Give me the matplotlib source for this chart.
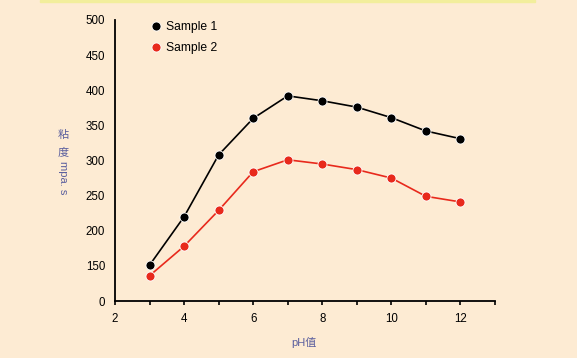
import matplotlib
matplotlib.use("Agg")
import matplotlib.pyplot as plt
from matplotlib.patches import Rectangle

plt.rcParams['font.family'] = ['Liberation Sans', 'Noto Sans CJK SC', 'DejaVu Sans']

ph = [3, 4, 5, 6, 7, 8, 9, 10, 11, 12]
sample1 = [151, 220, 308, 360, 392, 385, 376, 361, 342, 331]
sample2 = [136, 178, 229, 284, 301, 295, 287, 275, 249, 241]
yticks = [100, 150, 200, 250, 300, 350, 400, 450, 500]
ytick_labels = ['0', '150', '200', '250', '300', '350', '400', '450', '500']
xticks = [2, 4, 6, 8, 10, 12]

bg = '#fdebd3'
label_color = '#5b5f9e'

fig = plt.figure(figsize=(5.77, 3.58), dpi=100, facecolor=bg)
fig.patches.append(Rectangle((40/577, 1 - 1.5/358), 495/577, 1.5/358,
                             transform=fig.transFigure, color='#f2ee9c', zorder=0))
ax = fig.add_axes([115/577, 1 - 301/358, 380/577, 281/358])
ax.set_facecolor(bg)

ax.plot(ph, sample1, color='black', lw=1.2, marker='o', ms=6.5,
        mfc='black', mec='white', mew=0.6, label='Sample 1', zorder=3)
ax.plot(ph, sample2, color='#e8291c', lw=1.2, marker='o', ms=6.5,
        mfc='#e8291c', mec='white', mew=0.6, label='Sample 2', zorder=3)

ax.set_xlim(2, 13)
ax.set_ylim(100, 500)
ax.set_xticks(xticks)
ax.set_xticks(list(range(2, 14)), minor=True)
ax.set_yticks(yticks)
ax.set_yticklabels(ytick_labels)
ax.tick_params(axis='y', length=0, pad=7, labelsize=8.3)
ax.tick_params(axis='x', which='both', length=3, width=1.2, pad=6, labelsize=8.3)
for s in ['top', 'right']:
    ax.spines[s].set_visible(False)
for s in ['left', 'bottom']:
    ax.spines[s].set_linewidth(1.3)

leg = ax.legend(loc='upper left', bbox_to_anchor=(0.07, 1.035), frameon=False,
                fontsize=8.7, handlelength=0.6, handletextpad=0.5, labelspacing=0.75)
for h in leg.legend_handles:
    h.set_linestyle('none')

fig.text(63/577, 1 - 135/358, '粘', color=label_color, fontsize=8,
         ha='center', va='center', family=['Noto Sans CJK SC'])
fig.text(63/577, 1 - 153/358, '度', color=label_color, fontsize=8,
         ha='center', va='center', family=['Noto Sans CJK SC'])
fig.text(63/577, 1 - 178/358, 'mpa. s', color=label_color, fontsize=8,
         ha='center', va='center', rotation=-90)
fig.text(304/577, 1 - 342/358, 'pH值', color=label_color, fontsize=8,
         ha='center', va='center', family=['Liberation Sans', 'Noto Sans CJK SC'])

fig.savefig('out.png', dpi=100, facecolor=bg)
